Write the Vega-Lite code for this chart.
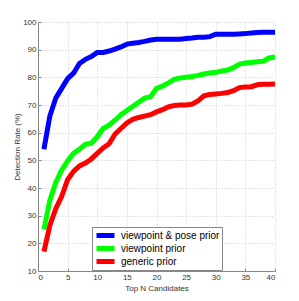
{
  "$schema": "https://vega.github.io/schema/vega-lite/v6.json",
  "width": 237,
  "height": 249,
  "autosize": "none",
  "padding": {"left": 38, "top": 22, "right": 24, "bottom": 30},
  "background": "white",
  "data": {"values": [
    {"s":"viewpoint & pose prior","n":1,"v":54},{"s":"viewpoint & pose prior","n":2,"v":66},{"s":"viewpoint & pose prior","n":3,"v":72.5},{"s":"viewpoint & pose prior","n":4,"v":76},{"s":"viewpoint & pose prior","n":5,"v":79.5},{"s":"viewpoint & pose prior","n":6,"v":81.5},{"s":"viewpoint & pose prior","n":7,"v":85},{"s":"viewpoint & pose prior","n":8,"v":86.5},{"s":"viewpoint & pose prior","n":9,"v":87.5},{"s":"viewpoint & pose prior","n":10,"v":89},
    {"s":"viewpoint & pose prior","n":11,"v":89},{"s":"viewpoint & pose prior","n":12,"v":89.5},{"s":"viewpoint & pose prior","n":13,"v":90.2},{"s":"viewpoint & pose prior","n":14,"v":91},{"s":"viewpoint & pose prior","n":15,"v":92},{"s":"viewpoint & pose prior","n":16,"v":92.3},{"s":"viewpoint & pose prior","n":17,"v":92.6},{"s":"viewpoint & pose prior","n":18,"v":93},{"s":"viewpoint & pose prior","n":19,"v":93.5},{"s":"viewpoint & pose prior","n":20,"v":93.8},
    {"s":"viewpoint & pose prior","n":21,"v":93.8},{"s":"viewpoint & pose prior","n":22,"v":93.8},{"s":"viewpoint & pose prior","n":23,"v":93.8},{"s":"viewpoint & pose prior","n":24,"v":93.8},{"s":"viewpoint & pose prior","n":25,"v":94},{"s":"viewpoint & pose prior","n":26,"v":94.2},{"s":"viewpoint & pose prior","n":27,"v":94.5},{"s":"viewpoint & pose prior","n":28,"v":94.5},{"s":"viewpoint & pose prior","n":29,"v":94.7},{"s":"viewpoint & pose prior","n":30,"v":95.6},
    {"s":"viewpoint & pose prior","n":31,"v":95.6},{"s":"viewpoint & pose prior","n":32,"v":95.6},{"s":"viewpoint & pose prior","n":33,"v":95.6},{"s":"viewpoint & pose prior","n":34,"v":95.7},{"s":"viewpoint & pose prior","n":35,"v":95.8},{"s":"viewpoint & pose prior","n":36,"v":96},{"s":"viewpoint & pose prior","n":37,"v":96.2},{"s":"viewpoint & pose prior","n":38,"v":96.3},{"s":"viewpoint & pose prior","n":39,"v":96.3},{"s":"viewpoint & pose prior","n":40,"v":96.3},
    {"s":"viewpoint prior","n":1,"v":25},{"s":"viewpoint prior","n":2,"v":35.5},{"s":"viewpoint prior","n":3,"v":42},{"s":"viewpoint prior","n":4,"v":46.5},{"s":"viewpoint prior","n":5,"v":49.8},{"s":"viewpoint prior","n":6,"v":52.5},{"s":"viewpoint prior","n":7,"v":54},{"s":"viewpoint prior","n":8,"v":55.8},{"s":"viewpoint prior","n":9,"v":56.2},{"s":"viewpoint prior","n":10,"v":58.5},
    {"s":"viewpoint prior","n":11,"v":61.5},{"s":"viewpoint prior","n":12,"v":62.7},{"s":"viewpoint prior","n":13,"v":64.5},{"s":"viewpoint prior","n":14,"v":66.5},{"s":"viewpoint prior","n":15,"v":68},{"s":"viewpoint prior","n":16,"v":69.5},{"s":"viewpoint prior","n":17,"v":71},{"s":"viewpoint prior","n":18,"v":72.5},{"s":"viewpoint prior","n":19,"v":73},{"s":"viewpoint prior","n":20,"v":76},
    {"s":"viewpoint prior","n":21,"v":76.8},{"s":"viewpoint prior","n":22,"v":78},{"s":"viewpoint prior","n":23,"v":79.3},{"s":"viewpoint prior","n":24,"v":79.8},{"s":"viewpoint prior","n":25,"v":80},{"s":"viewpoint prior","n":26,"v":80.3},{"s":"viewpoint prior","n":27,"v":80.7},{"s":"viewpoint prior","n":28,"v":81.2},{"s":"viewpoint prior","n":29,"v":81.6},{"s":"viewpoint prior","n":30,"v":81.8},
    {"s":"viewpoint prior","n":31,"v":82.3},{"s":"viewpoint prior","n":32,"v":82.6},{"s":"viewpoint prior","n":33,"v":83.5},{"s":"viewpoint prior","n":34,"v":84.8},{"s":"viewpoint prior","n":35,"v":85.2},{"s":"viewpoint prior","n":36,"v":85.4},{"s":"viewpoint prior","n":37,"v":85.6},{"s":"viewpoint prior","n":38,"v":85.8},{"s":"viewpoint prior","n":39,"v":87},{"s":"viewpoint prior","n":40,"v":87.4},
    {"s":"generic prior","n":1,"v":17},{"s":"generic prior","n":2,"v":26.5},{"s":"generic prior","n":3,"v":32.5},{"s":"generic prior","n":4,"v":37},{"s":"generic prior","n":5,"v":43},{"s":"generic prior","n":6,"v":46},{"s":"generic prior","n":7,"v":48},{"s":"generic prior","n":8,"v":49},{"s":"generic prior","n":9,"v":50.5},{"s":"generic prior","n":10,"v":52.5},
    {"s":"generic prior","n":11,"v":54.5},{"s":"generic prior","n":12,"v":56},{"s":"generic prior","n":13,"v":59.5},{"s":"generic prior","n":14,"v":61.5},{"s":"generic prior","n":15,"v":63.5},{"s":"generic prior","n":16,"v":64.8},{"s":"generic prior","n":17,"v":65.5},{"s":"generic prior","n":18,"v":66},{"s":"generic prior","n":19,"v":66.5},{"s":"generic prior","n":20,"v":67.5},
    {"s":"generic prior","n":21,"v":68.3},{"s":"generic prior","n":22,"v":69.3},{"s":"generic prior","n":23,"v":69.8},{"s":"generic prior","n":24,"v":70},{"s":"generic prior","n":25,"v":70},{"s":"generic prior","n":26,"v":70.3},{"s":"generic prior","n":27,"v":71.5},{"s":"generic prior","n":28,"v":73.3},{"s":"generic prior","n":29,"v":73.8},{"s":"generic prior","n":30,"v":74},
    {"s":"generic prior","n":31,"v":74.2},{"s":"generic prior","n":32,"v":74.5},{"s":"generic prior","n":33,"v":75.2},{"s":"generic prior","n":34,"v":76.3},{"s":"generic prior","n":35,"v":76.5},{"s":"generic prior","n":36,"v":76.6},{"s":"generic prior","n":37,"v":77.3},{"s":"generic prior","n":38,"v":77.5},{"s":"generic prior","n":39,"v":77.5},{"s":"generic prior","n":40,"v":77.6}
  ]},
  "mark": {"type": "line", "strokeWidth": 5, "clip": true},
  "encoding": {
    "x": {"field": "n", "type": "quantitative", "title": "Top N Candidates",
      "scale": {"domain": [0, 40], "nice": false},
      "axis": {"values": [0,5,10,15,20,25,30,35,40], "titlePadding": 3}},
    "y": {"field": "v", "type": "quantitative", "title": "Detection Rate (%)",
      "scale": {"domain": [10, 100], "nice": false},
      "axis": {"values": [10,20,30,40,50,60,70,80,90,100], "titlePadding": 1}},
    "color": {"field": "s", "type": "nominal",
      "scale": {"domain": ["viewpoint & pose prior", "viewpoint prior", "generic prior"], "range": ["#0000ff", "#00ff00", "#ff0000"]},
      "legend": {"title": null, "orient": "none", "legendX": 54, "legendY": 205,
        "symbolType": "stroke", "symbolStrokeWidth": 5, "symbolSize": 324,
        "clipHeight": 13,
        "labelFont": "Liberation Sans", "labelFontSize": 10, "labelColor": "#000",
        "rowPadding": 0, "labelOffset": 4,
        "strokeColor": "#888", "fillColor": "white", "padding": 2}}
  },
  "config": {
    "view": {"stroke": null},
    "axis": {
      "labelFont": "Liberation Sans", "labelFontSize": 8, "labelColor": "#333",
      "titleFont": "Liberation Sans", "titleFontSize": 8, "titleFontWeight": "normal", "titleColor": "#333",
      "domainColor": "#888", "tickColor": "#888", "tickSize": -3, "labelPadding": 5,
      "gridColor": "#ccc", "gridDash": [1, 2], "gridWidth": 1
    }
  }
}
